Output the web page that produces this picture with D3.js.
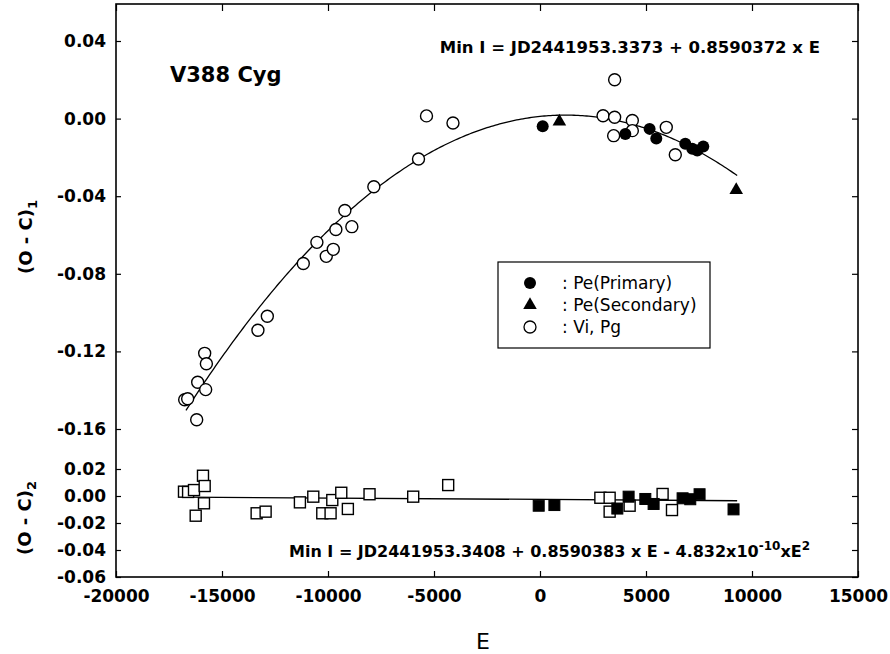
<!DOCTYPE html>
<html>

<head>
  <title>V388 Cyg O-C</title>
  <script src="https://cdn.jsdelivr.net/npm/d3@7"></script>
  <style>
    body { margin: 0; background: #fff; }
    .tick text { font-family: "DejaVu Sans"; font-weight: bold; font-size: 17px; fill: #000; }
    .tick line { stroke: #000; stroke-width: 1.2; }
  </style>
</head>

<body>
  <svg width="890" height="654" id="ocsvg"></svg>
  <script>
    // tick values
    const xTicks = [-20000, -15000, -10000, -5000, 0, 5000, 10000, 15000];
    const upperTicks = [0.04, 0.00, -0.04, -0.08, -0.12, -0.16];
    const lowerTicks = [0.02, 0.00, -0.02, -0.04, -0.06];

    // (O-C)1 : visual + photographic minima (open circles)
    const viE = [-16760, -16620, -16194, -16147, -15770, -15817, -15737, -13305, -12862, -11165, -10524,
      -10081, -9751, -9629, -9205, -8875, -7838, -5731, -5354, -4105, 2974, 3521, 3521, 3474, 4355, 4355, 5957, 6382];
    const viOC = [-0.1449, -0.1444, -0.1552, -0.1359, -0.1397, -0.1210, -0.1264, -0.1091, -0.1019, -0.0747, -0.0638,
      -0.0710, -0.0674, -0.0572, -0.0474, -0.0557, -0.0351, -0.0208, 0.0014, -0.0023, 0.0015, 0.0200, 0.0007, -0.0088, -0.0010, -0.0062, -0.0045, -0.0186];
    // photoelectric primary minima (filled circles)
    const priE = [127, 4025, 5170, 5486, 6853, 7183, 7418, 7701];
    const priOC = [-0.0039, -0.0079, -0.0053, -0.0102, -0.0130, -0.0155, -0.0165, -0.0144];
    // photoelectric secondary minima (filled triangles)
    const secE = [914, 9256];
    const secOC = [-0.0015, -0.0368];

    // (O-C)2 residuals
    const resViE = [-16793, -16600, -16321, -15897, -15817, -15850, -16241, -13366, -12942, -11325, -10694, -10270,
      -9878, -9798, -9374, -9063, -8041, -5981, -4331, 2847, 3285, 3285, 4228, 5783, 6226];
    const resViOC = [0.0032, 0.0030, 0.0044, 0.0150, 0.0074, -0.0054, -0.0146, -0.0128, -0.0116, -0.0047, -0.0005, -0.0128,
      -0.0128, -0.0030, 0.0024, -0.0096, 0.0013, -0.0005, 0.0081, -0.0013, -0.0013, -0.0116, -0.0072, 0.0015, -0.0104];
    const resPeE = [-61, 679, 3648, 4180, 4968, 5359, 6726, 7088, 7527, 9129];
    const resPeOC = [-0.0072, -0.0067, -0.0093, -0.0005, -0.0022, -0.0059, -0.0017, -0.0024, 0.0013, -0.0099];

    // quadratic ephemeris curve (as drawn) and the residual line
    const fitCoef = [0.00112, 1.14e-6, -4.75e-10];
    const fitRange = [-16700, 9300];
    const resLineE = [-16800, 9300];
    const resLineOC = [-0.0008, -0.0035];

    const legendLabels = [': Pe(Primary)', ': Pe(Secondary)', ': Vi, Pg'];

    const svg = d3.select('#ocsvg');
    const frame = { left: 116, right: 858, top: 4, bottom: 577 };

    const xScale = d3.scaleLinear().domain([-20000, 15000]).range([frame.left, frame.right]);
    const yUp = d3.scaleLinear().domain([-0.16, 0.04]).range([429, 41]);
    const yLow = d3.scaleLinear().domain([-0.06, 0.02]).range([577, 469]);
    const fmt = v => d3.format('.2f')(v).replace('−', '-');

    const g = svg.append('g');

    // axes, ticks all pointing inwards
    const axes = g.append('g');
    axes.append('g').attr('transform', `translate(0, ${frame.bottom})`)
      .call(d3.axisBottom(xScale).tickValues(xTicks).tickSizeInner(-6).tickSizeOuter(0).tickPadding(13)
        .tickFormat(d => String(d)));
    axes.append('g').attr('transform', `translate(0, ${frame.top})`)
      .call(d3.axisTop(xScale).tickValues(xTicks).tickSizeInner(-7).tickSizeOuter(0).tickFormat(''));
    axes.append('g').attr('transform', `translate(${frame.left}, 0)`)
      .call(d3.axisLeft(yUp).tickValues(upperTicks).tickSizeInner(-5).tickSizeOuter(0).tickPadding(10).tickFormat(fmt));
    axes.append('g').attr('transform', `translate(${frame.left}, 0)`)
      .call(d3.axisLeft(yLow).tickValues(lowerTicks).tickSizeInner(-5).tickSizeOuter(0).tickPadding(10).tickFormat(fmt));
    axes.append('g').attr('transform', `translate(${frame.right}, 0)`)
      .call(d3.axisRight(yUp).tickValues(upperTicks).tickSizeInner(-6).tickSizeOuter(0).tickFormat(''));
    axes.append('g').attr('transform', `translate(${frame.right}, 0)`)
      .call(d3.axisRight(yLow).tickValues(lowerTicks).tickSizeInner(-6).tickSizeOuter(0).tickFormat(''));
    axes.selectAll('.domain').remove();

    g.append('rect')
      .attr('x', frame.left).attr('y', frame.top)
      .attr('width', frame.right - frame.left).attr('height', frame.bottom - frame.top)
      .attr('fill', 'none').attr('stroke', '#000').attr('stroke-width', 1.6);

    // fitted curve
    const curvePts = d3.range(fitRange[0], fitRange[1] + 1, 100)
      .map(e => [e, fitCoef[0] + fitCoef[1] * e + fitCoef[2] * e * e]);
    const line = d3.line().x(d => xScale(d[0]));
    g.append('path').datum(curvePts)
      .attr('d', line.y(d => yUp(d[1])))
      .attr('fill', 'none').attr('stroke', '#000').attr('stroke-width', 1.3);
    g.append('path').datum(d3.zip(resLineE, resLineOC))
      .attr('d', d3.line().x(d => xScale(d[0])).y(d => yLow(d[1])))
      .attr('fill', 'none').attr('stroke', '#000').attr('stroke-width', 1.3);

    // upper panel marks
    g.selectAll('.vi').data(d3.zip(viE, viOC)).join('circle')
      .attr('class', 'vi')
      .attr('cx', d => xScale(d[0])).attr('cy', d => yUp(d[1])).attr('r', 6)
      .attr('fill', '#fff').attr('stroke', '#000').attr('stroke-width', 1.4);
    g.selectAll('.pri').data(d3.zip(priE, priOC)).join('circle')
      .attr('class', 'pri')
      .attr('cx', d => xScale(d[0])).attr('cy', d => yUp(d[1])).attr('r', 6)
      .attr('fill', '#000');
    const tri = d3.symbol().type(d3.symbolTriangle).size(80);
    g.selectAll('.sec').data(d3.zip(secE, secOC)).join('path')
      .attr('class', 'sec')
      .attr('transform', d => `translate(${xScale(d[0])}, ${yUp(d[1])})`)
      .attr('d', tri).attr('fill', '#000');

    // lower panel marks
    const sq = 11;
    g.selectAll('.rvi').data(d3.zip(resViE, resViOC)).join('rect')
      .attr('class', 'rvi')
      .attr('x', d => xScale(d[0]) - sq / 2).attr('y', d => yLow(d[1]) - sq / 2)
      .attr('width', sq).attr('height', sq)
      .attr('fill', '#fff').attr('stroke', '#000').attr('stroke-width', 1.4);
    g.selectAll('.rpe').data(d3.zip(resPeE, resPeOC)).join('rect')
      .attr('class', 'rpe')
      .attr('x', d => xScale(d[0]) - sq / 2).attr('y', d => yLow(d[1]) - sq / 2)
      .attr('width', sq).attr('height', sq)
      .attr('fill', '#000').attr('stroke', '#000').attr('stroke-width', 1);

    // legend
    const lg = g.append('g').attr('transform', 'translate(498, 262)');
    lg.append('rect').attr('width', 212).attr('height', 86)
      .attr('fill', '#fff').attr('stroke', '#000').attr('stroke-width', 1.2);
    lg.selectAll('.ltext').data(legendLabels).join('text')
      .attr('class', 'ltext')
      .attr('x', 64).attr('y', (d, i) => 27 + i * 22)
      .attr('font-family', 'DejaVu Sans').attr('font-size', '17px')
      .text(d => d);
    lg.append('circle').attr('cx', 32).attr('cy', 21).attr('r', 6).attr('fill', '#000');
    lg.append('path').attr('transform', 'translate(32, 43)').attr('d', tri).attr('fill', '#000');
    lg.append('circle').attr('cx', 32).attr('cy', 65).attr('r', 6)
      .attr('fill', '#fff').attr('stroke', '#000').attr('stroke-width', 1.3);

    // texts
    const bold = sel => sel.attr('font-family', 'DejaVu Sans').attr('font-weight', 'bold');
    svg.append('text').attr('x', 170).attr('y', 82).attr('font-size', '21px').call(bold).text('V388 Cyg');
    svg.append('text').attr('x', 820).attr('y', 53).attr('text-anchor', 'end').attr('font-size', '16.5px').call(bold)
      .text('Min I = JD2441953.3373 + 0.8590372 x E');

    const f2 = svg.append('text').attr('x', 289).attr('y', 557).attr('font-size', '16px').call(bold);
    f2.append('tspan').text('Min I = JD2441953.3408 + 0.8590383 x E - 4.832x10');
    f2.append('tspan').attr('dy', -7).attr('font-size', '12px').text('-10');
    f2.append('tspan').attr('dy', 7).text('xE');
    f2.append('tspan').attr('dy', -7).attr('font-size', '12px').text('2');

    const yl1 = svg.append('text').attr('transform', 'translate(32, 237) rotate(-90)')
      .attr('text-anchor', 'middle').attr('font-size', '18px').call(bold);
    yl1.append('tspan').text('(O - C)');
    yl1.append('tspan').attr('dy', 5).attr('font-size', '13px').text('1');
    const yl2 = svg.append('text').attr('transform', 'translate(31, 518) rotate(-90)')
      .attr('text-anchor', 'middle').attr('font-size', '18px').call(bold);
    yl2.append('tspan').text('(O - C)');
    yl2.append('tspan').attr('dy', 5).attr('font-size', '13px').text('2');

    svg.append('text').attr('x', 483).attr('y', 649).attr('text-anchor', 'middle')
      .attr('font-family', 'DejaVu Sans').attr('font-size', '22px').text('E');
  </script>
</body>

</html>
